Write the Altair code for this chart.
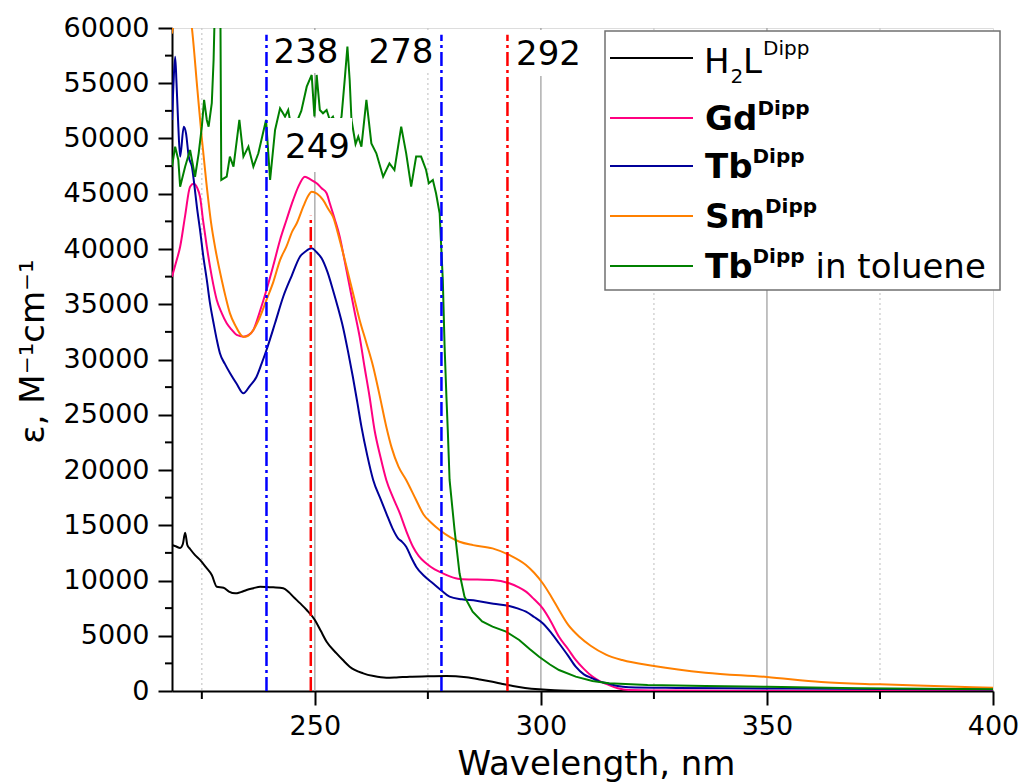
import altair as alt
import pandas as pd

# ---------------- data ----------------
H2L_NM = [218.4, 219.2, 220.2, 220.8, 221.3, 221.8, 222.4, 223.5, 224.6, 225.9, 227.2, 228.3,
          229.8, 231.0, 232.4, 233.6, 234.9, 236.4, 237.9, 239.3, 240.8, 243.0, 244.2, 245.2,
          246.7, 248.2, 250.0, 251.3, 252.6, 254.8, 256.2, 257.7, 260.7, 263.0, 265.8, 268.0,
          271.0, 275.0, 279.1, 283.5, 286.5, 289.3, 291.5, 293.8, 296.5, 299.6, 303.0, 306.0,
          310.0, 400.0]
H2L_EPS = [13213, 13100, 12940, 13300, 14330, 13200, 12850, 12300, 11860, 11200, 10500, 9440,
           9350, 9000, 8840, 8950, 9140, 9300, 9440, 9420, 9380, 9290, 8950, 8540,
           7950, 7330, 6430, 5450, 4460, 3410, 2800, 2200, 1600, 1350, 1200, 1230,
           1300, 1330, 1360, 1240, 1050, 840, 640, 450, 280, 150, 60, 20,
           0, 0]

GD_NM = [218.4, 219.3, 220.2, 221.3, 222.4, 223.2, 224.0, 224.6, 225.3, 226.1, 227.2, 228.3,
         229.4, 230.5, 231.6, 232.7, 234.2, 235.3, 236.4, 237.8, 239.3, 240.8, 242.3, 243.7,
         245.2, 246.3, 247.8, 249.0, 250.4, 251.5, 252.6, 253.3, 254.4, 255.5, 256.6, 257.7,
         258.8, 259.9, 261.0, 262.1, 263.2, 264.5, 265.8, 267.3, 268.8, 270.2, 271.7, 273.0,
         274.6, 276.5, 278.3, 280.0, 282.0, 286.0, 289.3, 293.0, 295.0, 296.7, 298.5, 300.4,
         302.2, 304.0, 306.0, 307.7, 309.5, 311.4, 313.0, 314.7, 317.0, 319.4, 330.0, 350.0,
         400.0]
GD_EPS = [37500, 38800, 40210, 43000, 45640, 45900, 45500, 44730, 42500, 40210, 37500, 35390,
          34200, 33280, 32700, 32220, 32070, 32200, 32670, 34300, 36290, 38500, 40820, 42600,
          44440, 45600, 46540, 46300, 45950, 45500, 45040, 44140, 42700, 41120, 38900, 36590,
          34300, 32070, 29300, 26630, 23620, 21200, 19100, 17500, 16080, 14500, 13060, 12200,
          11560, 11000, 10650, 10350, 10140, 10080, 10050, 9750, 9400, 8990, 8300, 7480,
          6300, 4910, 3800, 2810, 2000, 1300, 900, 600, 250, 90, 40, 30,
          20]

TB_NM = [218.4, 218.7, 219.1, 219.4, 219.8, 220.2, 221.0, 221.5, 222.1, 222.8, 223.3, 223.9,
         224.6, 225.3, 226.1, 226.8, 227.6, 228.3, 229.0, 230.1, 231.25, 232.7, 234.2, 235.6,
         237.1, 238.2, 239.3, 241.2, 243.0, 244.9, 246.7, 248.0, 249.3, 250.4, 251.5, 252.8,
         254.0, 255.1, 256.2, 257.3, 258.4, 259.4, 260.3, 261.6, 262.9, 264.5, 265.8, 267.2,
         268.4, 269.3, 270.2, 271.3, 272.4, 274.2, 276.1, 278.0, 279.8, 282.5, 285.7, 289.5,
         293.0, 295.0, 296.7, 298.5, 300.4, 302.2, 304.0, 306.0, 307.7, 309.5, 311.4, 313.0,
         314.7, 317.0, 319.4, 330.0, 350.0, 375.0, 400.0]
TB_EPS = [51680, 54690, 57400, 55000, 51070, 48360, 51070, 50470, 48360, 47450, 45950, 43830,
          41720, 39400, 37200, 35100, 33280, 31800, 30560, 29600, 28750, 27800, 26940, 27600,
          28440, 29600, 30860, 33300, 35680, 37600, 39300, 39800, 40060, 39700, 39160, 37900,
          36290, 34700, 32970, 30800, 28440, 26100, 23920, 21300, 19100, 17400, 16080, 14700,
          13820, 13500, 13060, 12100, 11250, 10400, 9750, 9100, 8540, 8300, 8170, 7900,
          7690, 7450, 7180, 6700, 6130, 5300, 4320, 3200, 2200, 1500, 1150, 850,
          700, 450, 350, 280, 230, 180, 130]

SM_NM = [218.4, 219.3, 220.5, 221.6, 222.8, 224.0, 225.0, 226.0, 227.0, 228.0, 229.4, 230.3,
         231.2, 232.5, 233.5, 234.2, 235.0, 236.4, 237.8, 239.3, 240.8, 242.3, 243.7, 245.0,
         246.0, 247.5, 248.5, 249.3, 250.5, 251.8, 253.0, 254.0, 255.5, 257.0, 258.5, 259.9,
         261.4, 262.9, 264.3, 265.8, 267.0, 268.5, 270.2, 272.4, 274.0, 275.8, 277.6, 280.0,
         282.0, 285.0, 289.3, 293.0, 296.7, 298.5, 300.4, 302.2, 304.0, 306.0, 308.5, 311.0,
         314.4, 318.0, 325.0, 336.4, 350.0, 362.0, 375.0, 387.0, 400.0]
SM_EPS = [59500, 61800, 63500, 63000, 60000, 54500, 50000, 46000, 42500, 40000, 37200, 35600,
          34200, 33000, 32300, 32050, 32100, 32670, 33800, 35390, 37000, 39000, 40210, 41600,
          42330, 43900, 44800, 45190, 45000, 44440, 43600, 42930, 40800, 38400, 35900, 33580,
          31500, 29350, 26800, 23920, 22000, 20300, 19100, 17290, 16000, 15200, 14570, 13900,
          13510, 13200, 12910, 12310, 11400, 10700, 9750, 8600, 7330, 6000, 4910, 4100,
          3300, 2800, 2265, 1660, 1270, 815, 600, 450, 300]

TBTOL_NM = [218.4, 219.1, 219.8, 220.2, 221.3, 222.4, 223.5, 224.3, 225.0, 225.5, 226.1, 226.5,
            227.2, 227.6, 228.0, 228.6, 229.1, 229.3, 230.5, 231.2, 232.0, 233.3, 234.2, 235.3,
            236.4, 237.5, 239.2, 240.1, 241.2, 242.3, 243.4, 244.1, 245.0, 246.0, 247.0, 248.2,
            249.3, 249.9, 250.4, 251.1, 251.8, 252.6, 253.3, 254.0, 255.0, 255.9, 256.6, 257.2,
            257.7, 258.1, 259.0, 259.6, 260.3, 261.4, 262.5, 263.6, 265.1, 266.5, 267.6, 269.1,
            270.2, 271.3, 272.4, 273.5, 274.6, 275.2, 276.1, 276.8, 277.6, 278.3, 278.7, 279.1,
            279.4, 279.8, 280.9, 282.0, 283.1, 284.9, 287.0, 289.3, 292.3, 295.2, 297.5, 299.6,
            302.0, 304.0, 307.7, 311.4, 315.0, 323.6, 336.4, 350.0, 370.0, 400.0]
TBTOL_EPS = [47450, 49260, 48060, 45640, 47450, 48960, 46540, 48660, 51070, 53490, 51680, 51070,
             53190, 57100, 64000, 66000, 62000, 46250, 46540, 48360, 47450, 51680, 48360, 49260,
             47450, 48660, 51680, 46250, 50770, 52730, 51980, 52580, 50500, 51500, 52500, 54690,
             55750, 52000, 55750, 52580, 52280, 52580, 51680, 51980, 50800, 51980, 55300, 58310,
             55300, 51680, 49500, 50170, 49260, 53490, 49560, 48660, 46540, 47750, 47150, 51070,
             48660, 45640, 48360, 48360, 47150, 45950, 46250, 45040, 43230, 37200, 31160, 26630,
             23620, 19100, 14570, 10650, 8540, 7180, 6300, 5820, 5370, 4620, 3800, 3100,
             2400, 1900, 1300, 900, 700, 540, 450, 380, 260, 160]

SERIES = ["H2L", "Gd", "Tb", "Sm", "TbTol"]
COLORS = ["#000000", "#FF0080", "#000099", "#FF8000", "#008000"]

REF_NM = [239.3, 249.1, 278.0, 292.6]
REF_TOP = [59400, 43000, 59400, 59400]
REF_COLOR = ["#0000FF", "#FF0000", "#0000FF", "#FF0000"]

X_MAJOR = [250, 300, 350, 400]
X_GRID_MAJOR = [250, 300, 350]
X_MINOR = [225, 275, 325, 375]
Y_MAJOR = list(range(0, 60001, 5000))
Y_MINOR = list(range(2500, 60000, 5000))

# ---------------- tables ----------------
rows = []
for name, xs, ys in zip(SERIES,
                        [H2L_NM, GD_NM, TB_NM, SM_NM, TBTOL_NM],
                        [H2L_EPS, GD_EPS, TB_EPS, SM_EPS, TBTOL_EPS]):
    for i, (x, y) in enumerate(zip(xs, ys)):
        rows.append({"series": name, "nm": x, "eps": y, "i": i})
df = pd.DataFrame(rows)
ref_df = pd.DataFrame({"nm": REF_NM, "top": REF_TOP, "bottom": [0] * 4, "c": REF_COLOR})

W, H = 821, 663
FONT = "DejaVu Sans"
xscale = alt.Scale(domain=[218.4, 400], nice=False, zero=False)
yscale = alt.Scale(domain=[0, 60000], nice=False, zero=False)
ONE = pd.DataFrame({"a": [1]})

x_axis = alt.Axis(values=X_MAJOR, format="d", title="Wavelength, nm", grid=False,
                  labelFont=FONT, labelFontSize=27, labelColor="black", labelPadding=8,
                  labelFlush=False, labelOverlap=False,
                  tickSize=14, tickWidth=2, tickColor="black",
                  domainColor="black", domainWidth=2,
                  titleFont=FONT, titleFontSize=34, titleFontWeight="normal", titleColor="black",
                  titleX=424, titleY=83, titleBaseline="alphabetic", titleAlign="center")
y_axis = alt.Axis(values=Y_MAJOR, format="d", title="ε, M⁻¹cm⁻¹", grid=False,
                  labelFont=FONT, labelFontSize=27, labelColor="black", labelPadding=9,
                  labelFlush=False, labelOverlap=False,
                  tickSize=14, tickWidth=2, tickColor="black",
                  domainColor="black", domainWidth=2,
                  titleFont=FONT, titleFontSize=34, titleFontWeight="normal", titleColor="black",
                  titleAngle=270, titleX=-129, titleY=323, titleBaseline="alphabetic",
                  titleAlign="center")


def X(field):
    return alt.X(field, scale=xscale, axis=x_axis)


def Y(field):
    return alt.Y(field, scale=yscale, axis=y_axis)


color_enc = alt.Color("series:N", scale=alt.Scale(domain=SERIES, range=COLORS), legend=None)

grid_major = alt.Chart(pd.DataFrame({"nm": X_GRID_MAJOR})).mark_rule(
    color="#9a9a9a", strokeWidth=1.2).encode(x=X("nm:Q"))
grid_minor = alt.Chart(pd.DataFrame({"nm": X_MINOR})).mark_rule(
    color="#c8c8c8", strokeWidth=1.2, strokeDash=[2, 3]).encode(x=X("nm:Q"))

minor_y = alt.Chart(pd.DataFrame({"eps": Y_MINOR})).mark_rule(color="black", strokeWidth=2).encode(
    y=Y("eps:Q"), x=alt.value(-7), x2=alt.value(0))
minor_x = alt.Chart(pd.DataFrame({"nm": X_MINOR})).mark_rule(color="black", strokeWidth=2).encode(
    x=X("nm:Q"), y=alt.value(H), y2=alt.value(H + 8))

smooth_lines = alt.Chart(df[df.series != "TbTol"]).mark_line(
    strokeWidth=2, clip=True, interpolate="monotone").encode(
    x=X("nm:Q"), y=Y("eps:Q"), color=color_enc, order="i:Q")
noisy_line = alt.Chart(df[df.series == "TbTol"]).mark_line(
    strokeWidth=2, clip=True).encode(
    x=X("nm:Q"), y=Y("eps:Q"), color=color_enc, order="i:Q")

refs = alt.Chart(ref_df).mark_rule(strokeWidth=2.5, strokeDash=[14, 4, 3, 4]).encode(
    x=X("nm:Q"),
    y=Y("bottom:Q"),
    y2="top:Q",
    color=alt.Color("c:N", scale=None),
)


def box(x0, x1, y0, y1, stroke=None):
    kw = dict(fill="white")
    if stroke:
        kw.update(stroke=stroke, strokeWidth=1.5)
    return alt.Chart(ONE).mark_rect(**kw).encode(
        x=alt.value(x0), x2=alt.value(x1), y=alt.value(y0), y2=alt.value(y1))


def txt(s, x, y, size, bold=False, align="left"):
    return alt.Chart(ONE).mark_text(
        font=FONT, fontSize=size, fontWeight="bold" if bold else "normal",
        align=align, baseline="alphabetic", color="black").encode(
        x=alt.value(x), y=alt.value(y), text=alt.value(s))


def seg(color, y):
    return alt.Chart(ONE).mark_rule(color=color, strokeWidth=2).encode(
        x=alt.value(438), x2=alt.value(521), y=alt.value(y))


annot = [
    box(98, 170, 2, 45), txt("238", 134, 35, 34, align="center"),
    box(180, 266, 2, 45), txt("278", 229, 35, 34, align="center"),
    box(111, 180, 90, 144), txt("249", 145.5, 130, 34, align="center"),
    box(340, 413, 2, 48), txt("292", 376.5, 37, 34, align="center"),
]

legend = [
    box(433, 828, 3, 262, stroke="#707070"),
    seg(COLORS[0], 30), seg(COLORS[1], 90), seg(COLORS[2], 138), seg(COLORS[3], 188), seg(COLORS[4], 238),
    txt("H", 532, 45, 34), txt("2", 558.5, 55, 20), txt("L", 571, 45, 34), txt("Dipp", 591, 27, 20),
    txt("Gd", 533, 102, 34, bold=True), txt("Dipp", 585.5, 87, 20, bold=True),
    txt("Tb", 533, 150, 34, bold=True), txt("Dipp", 580.5, 135, 20, bold=True),
    txt("Sm", 533, 200, 34, bold=True), txt("Dipp", 593, 185, 20, bold=True),
    txt("Tb", 533, 250, 34, bold=True), txt("Dipp", 580.5, 235, 20, bold=True),
    txt("in toluene", 643.5, 250, 34),
]

chart = alt.layer(grid_minor, grid_major, minor_y, minor_x, smooth_lines, noisy_line, refs,
                  *annot, *legend).properties(
    width=W, height=H,
    padding={"left": 172, "top": 28, "right": 31, "bottom": 92},
    autosize=alt.AutoSizeParams(type="none"),
).configure_view(stroke=None).configure(background="white")

chart.save("out.html", embed_options={"renderer": "svg", "actions": False})
